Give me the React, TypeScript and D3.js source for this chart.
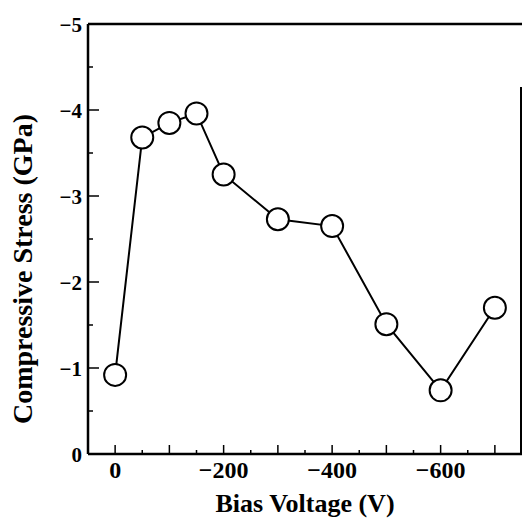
import React from "react";
import * as d3 from "d3";

const biasVoltage = [0, -50, -100, -150, -200, -300, -400, -500, -600, -700];
const stress = [-0.92, -3.68, -3.85, -3.96, -3.25, -2.73, -2.65, -1.51, -0.74, -1.7];
const xTickLabels = [0, -200, -400, -600];
const yTickLabels = [0, -1, -2, -3, -4, -5];

const W = 523;
const H = 522;
const left = 88, right = 522, top = 24, bottom = 454;
const FONT = "'Liberation Serif', 'Times New Roman', serif";

export default function App() {
  const x = d3.scaleLinear().domain([50, -750]).range([left, right]);
  const y = d3.scaleLinear().domain([0, -5]).range([bottom, top]);
  const line = d3
    .line<number>()
    .x((_, i) => x(biasVoltage[i]))
    .y((d) => y(d));

  const xMinor = d3.range(0, -701, -50);
  const yMinor = d3.range(-0.5, -5, -0.5);
  const fmt = (v: number) => (v < 0 ? "\u2212" + Math.abs(v) : String(v));

  return (
    <svg
      width={W}
      height={H}
      style={{ position: "absolute", left: 0, top: 0, background: "#fff" }}
      fontFamily={FONT}
    >
      {/* frame */}
      <line x1={left} y1={top} x2={left} y2={bottom} stroke="#000" strokeWidth={2.5} />
      <line x1={left} y1={bottom} x2={right} y2={bottom} stroke="#000" strokeWidth={2.5} />
      <line x1={left} y1={top} x2={right} y2={top} stroke="#000" strokeWidth={2.5} />
      <line x1={right - 1} y1={87} x2={right - 1} y2={bottom} stroke="#000" strokeWidth={2} />

      {/* x ticks */}
      {xMinor.map((v) => {
        const major = v % 100 === 0;
        return (
          <line
            key={"xt" + v}
            x1={x(v)}
            x2={x(v)}
            y1={bottom}
            y2={bottom - (major ? 9 : 4)}
            stroke="#000"
            strokeWidth={1.5}
          />
        );
      })}
      {/* y ticks */}
      {yMinor.map((v) => {
        const major = Math.abs(v % 1) < 1e-9;
        return (
          <line
            key={"yt" + v}
            x1={left}
            x2={left + (major ? 11 : 5)}
            y1={y(v)}
            y2={y(v)}
            stroke="#000"
            strokeWidth={1.5}
          />
        );
      })}

      {/* x tick labels */}
      {xTickLabels.map((v) => (
        <text
          key={"xl" + v}
          x={x(v)}
          y={478}
          textAnchor="middle"
          fontSize={24}
          fontWeight="bold"
        >
          {fmt(v)}
        </text>
      ))}
      {/* y tick labels */}
      {yTickLabels.map((v) => (
        <text
          key={"yl" + v}
          x={82}
          y={y(v)}
          dy="0.36em"
          textAnchor="end"
          fontSize={21}
          fontWeight="bold"
        >
          {fmt(v)}
        </text>
      ))}

      {/* axis titles */}
      <text x={305} y={512} textAnchor="middle" fontSize={26} fontWeight="bold">
        Bias Voltage (V)
      </text>
      <text
        transform={`translate(32, 269) rotate(-90)`}
        textAnchor="middle"
        fontSize={28}
        fontWeight="bold"
      >
        Compressive Stress (GPa)
      </text>

      {/* data */}
      <path d={line(stress) || ""} fill="none" stroke="#000" strokeWidth={2} />
      {stress.map((s, i) => (
        <circle
          key={"pt" + i}
          cx={x(biasVoltage[i])}
          cy={y(s)}
          r={11}
          fill="#fff"
          stroke="#000"
          strokeWidth={2}
        />
      ))}
    </svg>
  );
}
